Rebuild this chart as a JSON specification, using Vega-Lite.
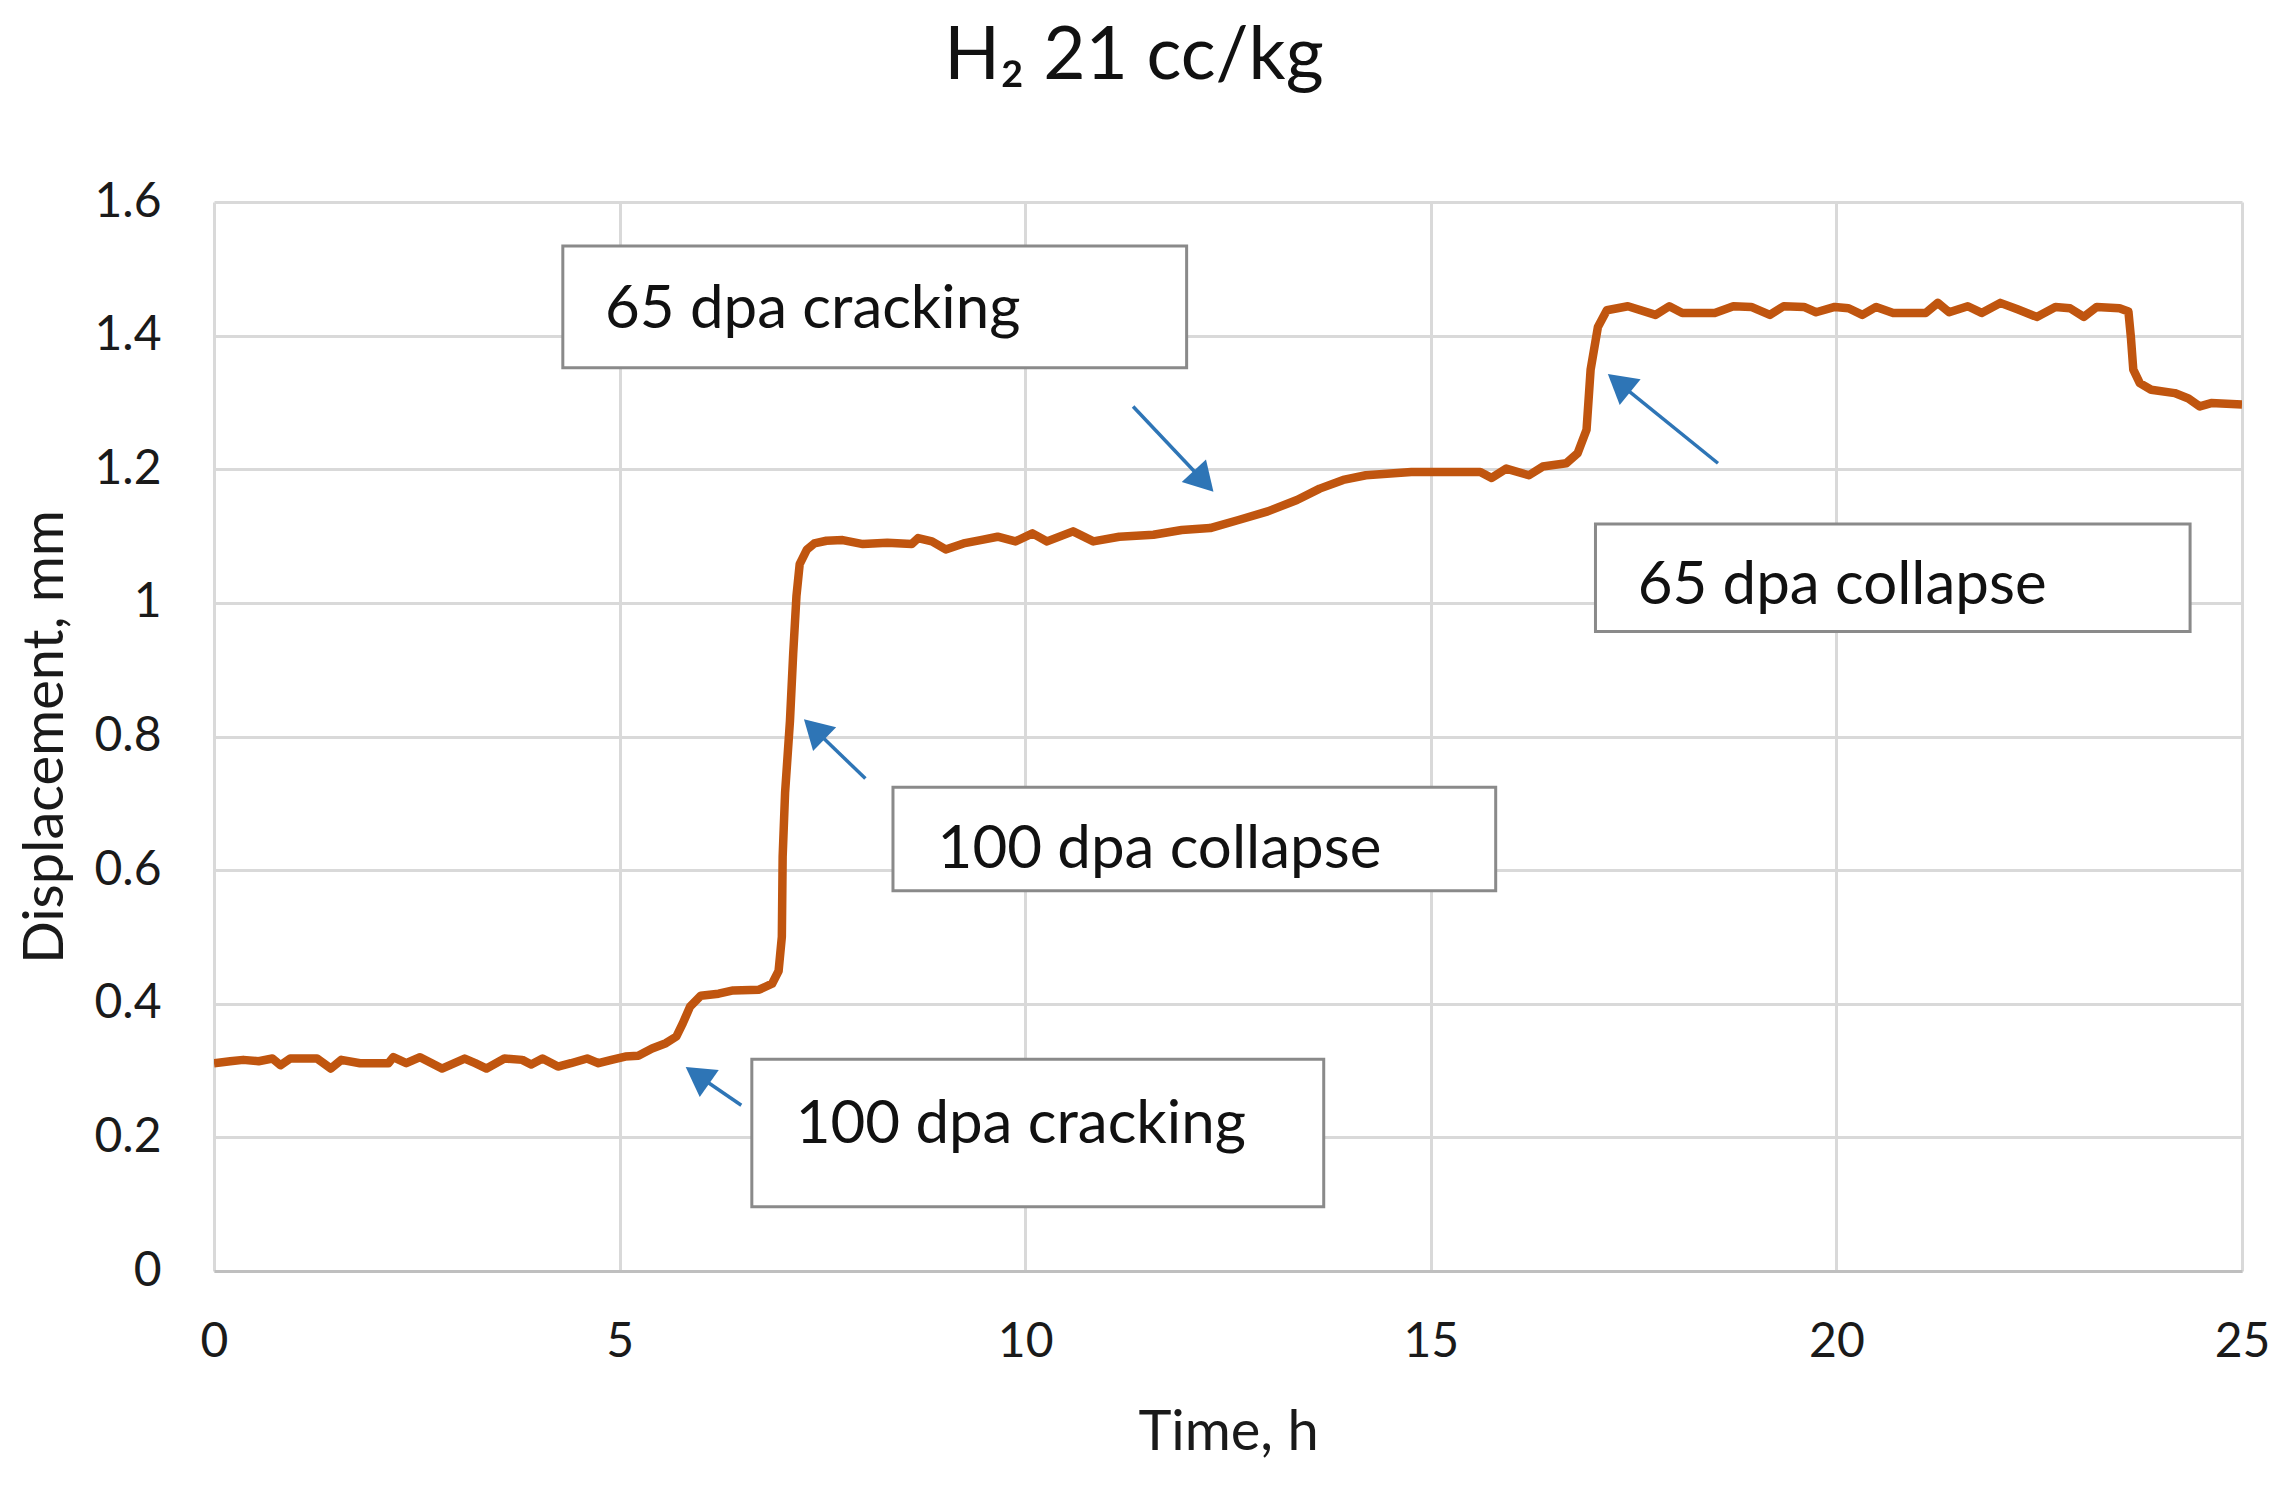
{
  "$schema": "https://vega.github.io/schema/vega-lite/v6.json",
  "width": 2028,
  "height": 1069,
  "autosize": {"type": "none"},
  "padding": {"left": 214, "top": 202, "right": 53, "bottom": 214},
  "background": "white",
  "title": {
    "text": "H₂ 21 cc/kg",
    "fontSize": 73,
    "fontWeight": "normal",
    "color": "#111111",
    "anchor": "middle",
    "dx": -94,
    "baseline": "alphabetic",
    "offset": 26
  },
  "datasets": {
    "curve": [
      {"t": 0, "v": 0.311}, {"t": 0.2, "v": 0.314}, {"t": 0.36, "v": 0.316}, {"t": 0.55, "v": 0.314},
      {"t": 0.72, "v": 0.318}, {"t": 0.82, "v": 0.308}, {"t": 0.94, "v": 0.318}, {"t": 1.27, "v": 0.318},
      {"t": 1.44, "v": 0.303}, {"t": 1.57, "v": 0.316}, {"t": 1.8, "v": 0.311}, {"t": 2.15, "v": 0.311},
      {"t": 2.21, "v": 0.32}, {"t": 2.37, "v": 0.311}, {"t": 2.54, "v": 0.32}, {"t": 2.81, "v": 0.303},
      {"t": 3.09, "v": 0.318}, {"t": 3.22, "v": 0.311}, {"t": 3.36, "v": 0.303}, {"t": 3.58, "v": 0.318},
      {"t": 3.8, "v": 0.316}, {"t": 3.91, "v": 0.309}, {"t": 4.05, "v": 0.318}, {"t": 4.24, "v": 0.306},
      {"t": 4.4, "v": 0.311}, {"t": 4.6, "v": 0.318}, {"t": 4.74, "v": 0.311}, {"t": 4.9, "v": 0.316},
      {"t": 5.07, "v": 0.321}, {"t": 5.23, "v": 0.322}, {"t": 5.4, "v": 0.333}, {"t": 5.57, "v": 0.341},
      {"t": 5.7, "v": 0.351}, {"t": 5.78, "v": 0.371}, {"t": 5.87, "v": 0.396}, {"t": 6.0, "v": 0.412},
      {"t": 6.22, "v": 0.415}, {"t": 6.4, "v": 0.42}, {"t": 6.72, "v": 0.421}, {"t": 6.88, "v": 0.43},
      {"t": 6.96, "v": 0.449}, {"t": 7.0, "v": 0.5}, {"t": 7.01, "v": 0.62}, {"t": 7.04, "v": 0.716},
      {"t": 7.1, "v": 0.823}, {"t": 7.14, "v": 0.924}, {"t": 7.18, "v": 1.01}, {"t": 7.22, "v": 1.058},
      {"t": 7.31, "v": 1.08}, {"t": 7.4, "v": 1.089}, {"t": 7.55, "v": 1.093}, {"t": 7.75, "v": 1.094},
      {"t": 8.0, "v": 1.088}, {"t": 8.3, "v": 1.09}, {"t": 8.6, "v": 1.088}, {"t": 8.68, "v": 1.097}, {"t": 8.85, "v": 1.092},
      {"t": 9.02, "v": 1.08}, {"t": 9.24, "v": 1.089}, {"t": 9.45, "v": 1.094}, {"t": 9.66, "v": 1.099},
      {"t": 9.88, "v": 1.092}, {"t": 10.09, "v": 1.104}, {"t": 10.27, "v": 1.092}, {"t": 10.59, "v": 1.107},
      {"t": 10.84, "v": 1.092}, {"t": 11.16, "v": 1.099}, {"t": 11.58, "v": 1.102}, {"t": 11.93, "v": 1.109},
      {"t": 12.28, "v": 1.112}, {"t": 12.63, "v": 1.124}, {"t": 12.99, "v": 1.137}, {"t": 13.35, "v": 1.154},
      {"t": 13.63, "v": 1.171}, {"t": 13.92, "v": 1.184}, {"t": 14.2, "v": 1.191}, {"t": 14.76, "v": 1.196},
      {"t": 15.61, "v": 1.196}, {"t": 15.75, "v": 1.187}, {"t": 15.93, "v": 1.201}, {"t": 16.21, "v": 1.191},
      {"t": 16.38, "v": 1.204}, {"t": 16.67, "v": 1.209}, {"t": 16.81, "v": 1.224}, {"t": 16.92, "v": 1.259},
      {"t": 16.97, "v": 1.349}, {"t": 17.06, "v": 1.413}, {"t": 17.17, "v": 1.438}, {"t": 17.43, "v": 1.444},
      {"t": 17.77, "v": 1.431}, {"t": 17.94, "v": 1.444}, {"t": 18.1, "v": 1.434}, {"t": 18.5, "v": 1.434},
      {"t": 18.73, "v": 1.444}, {"t": 18.95, "v": 1.443}, {"t": 19.18, "v": 1.431}, {"t": 19.35, "v": 1.444},
      {"t": 19.6, "v": 1.443}, {"t": 19.75, "v": 1.435}, {"t": 19.98, "v": 1.443}, {"t": 20.15, "v": 1.441},
      {"t": 20.32, "v": 1.431}, {"t": 20.49, "v": 1.443}, {"t": 20.7, "v": 1.434}, {"t": 21.1, "v": 1.434},
      {"t": 21.25, "v": 1.449}, {"t": 21.39, "v": 1.435}, {"t": 21.62, "v": 1.444}, {"t": 21.79, "v": 1.434},
      {"t": 22.02, "v": 1.449}, {"t": 22.24, "v": 1.439}, {"t": 22.47, "v": 1.428}, {"t": 22.7, "v": 1.443},
      {"t": 22.88, "v": 1.441}, {"t": 23.05, "v": 1.428}, {"t": 23.21, "v": 1.443}, {"t": 23.49, "v": 1.441},
      {"t": 23.6, "v": 1.436}, {"t": 23.63, "v": 1.398}, {"t": 23.66, "v": 1.349}, {"t": 23.74, "v": 1.329},
      {"t": 23.88, "v": 1.319}, {"t": 24.17, "v": 1.314}, {"t": 24.34, "v": 1.306}, {"t": 24.48, "v": 1.294},
      {"t": 24.62, "v": 1.299}, {"t": 25.0, "v": 1.297}
    ],
    "arrows": [
      {"tail_t": 11.33, "tail_v": 1.294, "head_t": 12.2, "head_v": 1.182, "dir": 137},
      {"tail_t": 18.54, "tail_v": 1.209, "head_t": 17.32, "head_v": 1.329, "dir": 309},
      {"tail_t": 8.03, "tail_v": 0.737, "head_t": 7.4, "head_v": 0.811, "dir": 314},
      {"tail_t": 6.5, "tail_v": 0.248, "head_t": 5.96, "head_v": 0.293, "dir": 305}
    ],
    "notes": [
      {"label": "65 dpa cracking", "x1": 4.3, "x2": 11.99, "y1": 1.352, "y2": 1.534, "tx": 4.82, "ty": 1.412},
      {"label": "65 dpa collapse", "x1": 17.03, "x2": 24.36, "y1": 0.957, "y2": 1.118, "tx": 17.55, "ty": 0.999},
      {"label": "100 dpa collapse", "x1": 8.37, "x2": 15.8, "y1": 0.569, "y2": 0.724, "tx": 8.92, "ty": 0.603},
      {"label": "100 dpa cracking", "x1": 6.63, "x2": 13.68, "y1": 0.096, "y2": 0.317, "tx": 7.17, "ty": 0.192}
    ]
  },
  "layer": [
    {
      "data": {"name": "curve"},
      "mark": {"type": "line", "color": "#C0550F", "strokeWidth": 8.5, "strokeJoin": "round", "clip": true},
      "encoding": {
        "x": {
          "field": "t", "type": "quantitative", "title": "Time, h",
          "scale": {"domain": [0, 25], "nice": false, "zero": false},
          "axis": {
            "values": [0, 5, 10, 15, 20, 25],
            "format": "d",
            "labelFlush": false,
            "domain": true, "domainColor": "#bfbfbf", "domainWidth": 3,
            "labelPadding": 47, "titlePadding": 39
          }
        },
        "y": {
          "field": "v", "type": "quantitative", "title": "Displacement, mm",
          "scale": {"domain": [0, 1.6], "nice": false},
          "axis": {
            "values": [0, 0.2, 0.4, 0.6, 0.8, 1, 1.2, 1.4, 1.6],
            "format": "~f",
            "labelFlush": false,
            "domain": false,
            "labelPadding": 53, "titlePadding": 19
          }
        }
      }
    },
    {
      "data": {"name": "arrows"},
      "mark": {"type": "rule", "color": "#2E75B6", "strokeWidth": 3.5},
      "encoding": {
        "x": {"field": "tail_t", "type": "quantitative", "title": "Time, h", "scale": {"domain": [0, 25], "nice": false}},
        "y": {"field": "tail_v", "type": "quantitative", "title": "Displacement, mm", "scale": {"domain": [0, 1.6], "nice": false}},
        "x2": {"field": "head_t"},
        "y2": {"field": "head_v"}
      }
    },
    {
      "data": {"name": "arrows"},
      "mark": {"type": "point", "shape": "triangle-up", "filled": true, "color": "#2E75B6", "opacity": 1, "size": 1100},
      "encoding": {
        "x": {"field": "head_t", "type": "quantitative", "title": "Time, h", "scale": {"domain": [0, 25], "nice": false}},
        "y": {"field": "head_v", "type": "quantitative", "title": "Displacement, mm", "scale": {"domain": [0, 1.6], "nice": false}},
        "angle": {"field": "dir", "type": "quantitative", "scale": null}
      }
    },
    {
      "data": {"name": "notes"},
      "mark": {"type": "rect", "fill": "white", "stroke": "#8a8a8a", "strokeWidth": 3},
      "encoding": {
        "x": {"field": "x1", "type": "quantitative", "title": "Time, h", "scale": {"domain": [0, 25], "nice": false}},
        "x2": {"field": "x2"},
        "y": {"field": "y1", "type": "quantitative", "title": "Displacement, mm", "scale": {"domain": [0, 1.6], "nice": false}},
        "y2": {"field": "y2"}
      }
    },
    {
      "data": {"name": "notes"},
      "mark": {"type": "text", "align": "left", "baseline": "alphabetic", "fontSize": 60, "color": "#111111"},
      "encoding": {
        "x": {"field": "tx", "type": "quantitative", "title": "Time, h", "scale": {"domain": [0, 25], "nice": false}},
        "y": {"field": "ty", "type": "quantitative", "title": "Displacement, mm", "scale": {"domain": [0, 1.6], "nice": false}},
        "text": {"field": "label"}
      }
    }
  ],
  "config": {
    "font": "Lato",
    "view": {"stroke": null},
    "axis": {
      "grid": true,
      "gridColor": "#d9d9d9",
      "gridWidth": 3,
      "ticks": false,
      "labelFont": "Lato",
      "labelFontSize": 48,
      "labelColor": "#1a1a1a",
      "titleFont": "Lato",
      "titleFontSize": 56,
      "titleFontWeight": "normal",
      "titleColor": "#1a1a1a"
    }
  }
}
